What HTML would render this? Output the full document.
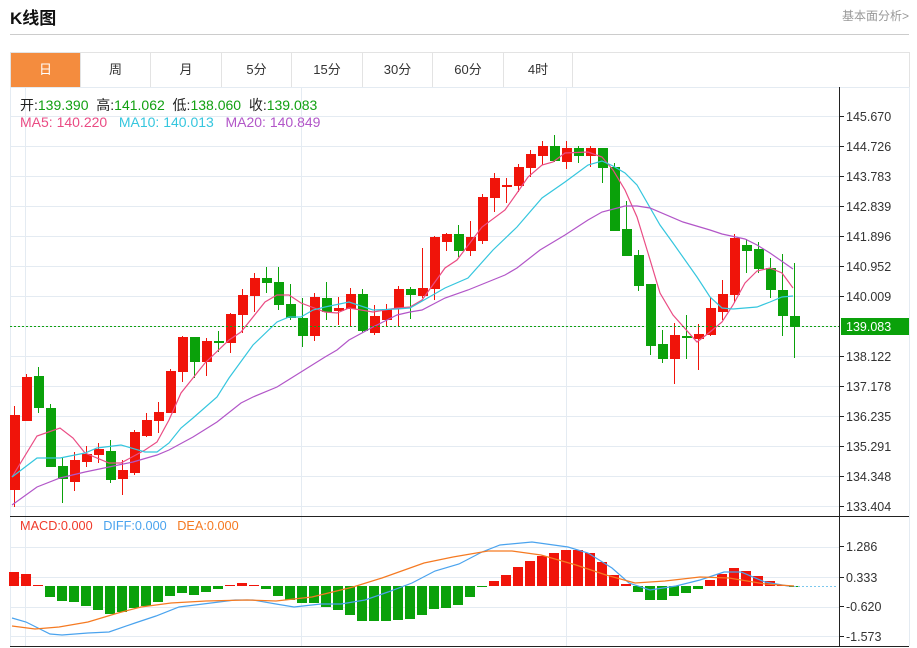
<!DOCTYPE html>
<html><head><meta charset="utf-8"><style>
body{margin:0;width:917px;height:648px;background:#fff;overflow:hidden;font-family:"Liberation Sans","Noto Sans CJK SC",sans-serif;position:relative}
.t{position:absolute;white-space:nowrap}
</style></head><body>
<div class="t" style="left:10px;top:4px;font-size:17px;font-weight:bold;color:#111">K线图</div>
<div class="t" style="left:842px;top:7px;font-size:12px;color:#999">基本面分析&gt;</div>
<div style="position:absolute;left:10px;top:34px;width:899px;height:1px;background:#ccc"></div>
<div style="position:absolute;left:10px;top:52px;width:898px;height:34px;border:1px solid #e3e3e3"></div>
<div id="tabs"></div>
<svg id="s" width="917" height="648" style="position:absolute;left:0;top:0"></svg>
<div class="t" style="left:20px;top:95px;font-size:14px;color:#222">开:<span style="color:#11a011">139.390</span>&nbsp; 高:<span style="color:#11a011">141.062</span>&nbsp; 低:<span style="color:#11a011">138.060</span>&nbsp; 收:<span style="color:#11a011">139.083</span></div>
<div class="t" style="left:20px;top:114px;font-size:14px"><span style="color:#ea4c84">MA5: 140.220</span>&nbsp;&nbsp; <span style="color:#35c6de">MA10: 140.013</span>&nbsp;&nbsp; <span style="color:#b256c8">MA20: 140.849</span></div>
<div class="t" style="left:20px;top:519px;font-size:12.7px"><span style="color:#f03a2a">MACD:0.000</span>&nbsp;&nbsp; <span style="color:#4aa3ee">DIFF:0.000</span>&nbsp;&nbsp; <span style="color:#f57a22">DEA:0.000</span></div>
<script>
var tabs=["日","周","月","5分","15分","30分","60分","4时"],b=[11,81,151,222,292,363,433,504,573],h="";
for(var i=0;i<8;i++){h+='<div class="t" style="left:'+b[i]+'px;top:53px;width:'+(b[i+1]-b[i]-1)+'px;height:34px;line-height:34px;text-align:center;font-size:13px;'+(i==0?'background:#f48c3e;color:#fff;':'color:#333;')+'border-right:1px solid #e3e3e3">'+tabs[i]+'</div>';}
document.getElementById("tabs").innerHTML=h;
var s="";
function L(x1,y1,x2,y2,c,w,d){s+='<line x1="'+x1+'" y1="'+y1+'" x2="'+x2+'" y2="'+y2+'" stroke="'+c+'" stroke-width="'+(w||1)+'"'+(d?' stroke-dasharray="'+d+'"':'')+'/>';}
function P(pts,c){var a=[];for(var i=0;i<pts.length;i+=2)a.push(pts[i]+","+pts[i+1]);s+='<polyline points="'+a.join(" ")+'" fill="none" stroke="'+c+'" stroke-width="1.2"/>';}
for(var y=116;y<=506;y+=30)L(10,y+.5,839,y+.5,"#e4ebf2");
[25,301,566].forEach(function(x){L(x+.5,87,x+.5,646,"#e4ebf2");});
[547,577,607,636].forEach(function(y){L(10,y+.5,839,y+.5,"#e4ebf2");});
L(10.5,87,10.5,646,"#e4ebf2");L(909.5,87,909.5,646,"#e4ebf2");
L(10,87.5,909,87.5,"#e4ebf2");
L(10,516.5,909,516.5,"#222");L(10,646.5,909,646.5,"#222");
L(839.5,87,839.5,646,"#222");
var labs=["145.670","144.726","143.783","142.839","141.896","140.952","140.009","139.083","138.122","137.178","136.235","135.291","134.348","133.404"];
for(var i=0;i<14;i++){var y=116+30*i;if(i!=7){L(839,y+.5,844,y+.5,"#222");s+='<text x="846" y="'+(y+5)+'" font-size="12.5" fill="#333">'+labs[i]+'</text>';}}
[["1.286",546],["0.333",577],["-0.620",606],["-1.573",636]].forEach(function(a){L(839,a[1]+.5,844,a[1]+.5,"#222");s+='<text x="846" y="'+(a[1]+5)+'" font-size="12.5" fill="#333">'+a[0]+'</text>';});
var C=[[415,490,406,507,1],[377,421,374,421,1],[376,408,367,413,0],[408,467,404,467,0],[466,479,458,503,0],[460,482,452,491,1],[454,462,446,467,1],[449,455,443,463,1],[451,480,440,483,0],[470,479,460,495,1],[432,473,430,475,1],[420,436,413,437,1],[412,421,402,433,1],[371,413,369,413,1],[337,372,336,382,1],[337,362,337,378,0],[341,362,338,376,1],[341,343,331,352,0],[314,343,313,353,1],[295,315,289,333,1],[278,296,273,312,1],[278,283,267,293,0],[282,305,267,310,0],[304,318,284,320,0],[318,336,298,347,0],[297,336,293,341,1],[298,312,282,320,0],[308,311,297,325,1],[294,309,288,327,1],[294,331,289,333,0],[316,333,305,335,1],[309,320,304,327,1],[289,309,286,327,1],[289,295,287,319,0],[288,296,248,298,1],[237,289,236,300,1],[234,242,233,251,1],[234,251,225,257,0],[237,251,221,256,1],[197,241,194,244,1],[178,198,173,212,1],[185,187,178,203,1],[167,186,164,192,1],[154,168,150,177,1],[146,156,141,165,1],[146,161,135,162,0],[148,162,141,169,1],[148,156,146,163,0],[148,156,146,167,1],[148,168,148,183,0],[167,231,163,231,0],[229,256,201,256,0],[255,286,250,291,0],[284,346,284,355,0],[344,359,330,363,0],[335,359,323,384,1],[336,338,315,359,0],[334,339,324,370,1],[308,335,297,336,1],[294,312,280,320,1],[238,295,234,303,1],[245,251,239,273,0],[249,269,242,273,0],[268,290,258,298,0],[290,316,254,336,0],[316,327,263,358,0]];
for(var i=0;i<C.length;i++){var c=C[i],x=14+12*i,col=c[4]?"#f0140a":"#0aa10a";L(x+.5,c[2],x+.5,c[3],col);s+='<rect x="'+(x-4)+'" y="'+c[0]+'" width="10" height="'+Math.max(1.5,c[1]-c[0])+'" fill="'+col+'"/>';}
P([12,477,37,436,60,428,73,438,85,453,109,463,121,463,145,450,157,442,169,420,181,393,205,363,229,340,241,332,265,302,277,295,289,295,301,303,325,312,337,313,349,308,373,312,397,308,410,307,422,300,445,268,457,260,482,227,505,210,517,193,528,177,542,165,553,162,565,153,588,152,602,157,613,170,625,190,637,217,648,253,660,293,673,315,697,342,710,332,722,322,733,305,745,283,757,271,770,268,782,273,793,288],"#ea4c84");
P([12,477,37,458,60,458,85,453,97,448,121,445,145,452,157,452,169,443,181,428,193,418,217,397,229,378,253,345,277,322,289,317,301,317,313,310,325,307,349,302,373,310,397,309,410,308,445,288,468,278,493,250,517,227,542,198,565,182,588,165,602,161,613,166,625,173,637,185,660,225,673,243,697,277,710,297,722,308,733,309,757,307,770,302,782,297,793,296],"#35c6de");
P([12,505,37,487,60,478,85,472,109,467,133,462,157,455,169,450,193,437,217,422,241,403,253,397,277,387,301,372,325,357,337,350,349,340,373,327,397,315,410,312,422,310,445,298,468,290,505,275,517,268,540,250,565,235,588,220,602,212,625,206,637,206,650,208,683,222,710,230,722,234,745,239,757,245,770,253,793,269],"#b256c8");
L(10,326.5,839,326.5,"#11a011",1,"2,2");
s+='<rect x="841" y="318" width="68" height="17" fill="#0aa10a"/><text x="846" y="331" font-size="12.5" fill="#fff">139.083</text>';
var M=[572,574,585,597,601,602,606,610,614,612,608,606,602,596,593,595,592,589,585,583,585,589,596,600,603,603,607,610,615,621,621,621,620,619,615,609,608,605,597,587,581,575,567,561,556,553,550,550,553,562,575,584,592,600,600,596,593,589,580,574,568,571,576,581,585,586];
for(var i=0;i<M.length;i++){var x=14+12*i,v=M[i];if(v<586)s+='<rect x="'+(x-5)+'" y="'+v+'" width="10" height="'+(586-v)+'" fill="#f0140a"/>';else s+='<rect x="'+(x-5)+'" y="586" width="10" height="'+Math.max(1,v-586)+'" fill="#0aa10a"/>';}
L(794,586.5,836,586.5,"#7cc8ee",1,"2,2");
P([12,618,26,622,50,634,62,635,88,633,109,632,135,623,156,616,179,607,203,604,235,600,253,600,276,604,294,607,321,604,341,604,365,600,388,592,412,583,435,571,459,564,482,552,500,545,532,542,568,547,588,553,612,568,629,583,650,590,676,586,700,580,724,572,741,572,765,582,788,586,794,586],"#4aa3ee");
P([12,626,35,629,59,627,88,622,118,613,141,607,171,603,206,601,247,600,276,601,312,597,353,587,382,578,424,563,453,557,488,551,512,551,541,555,576,565,606,575,635,583,665,581,700,577,729,578,765,584,794,586],"#f57a22");
document.getElementById("s").innerHTML=s;
</script>
</body></html>
